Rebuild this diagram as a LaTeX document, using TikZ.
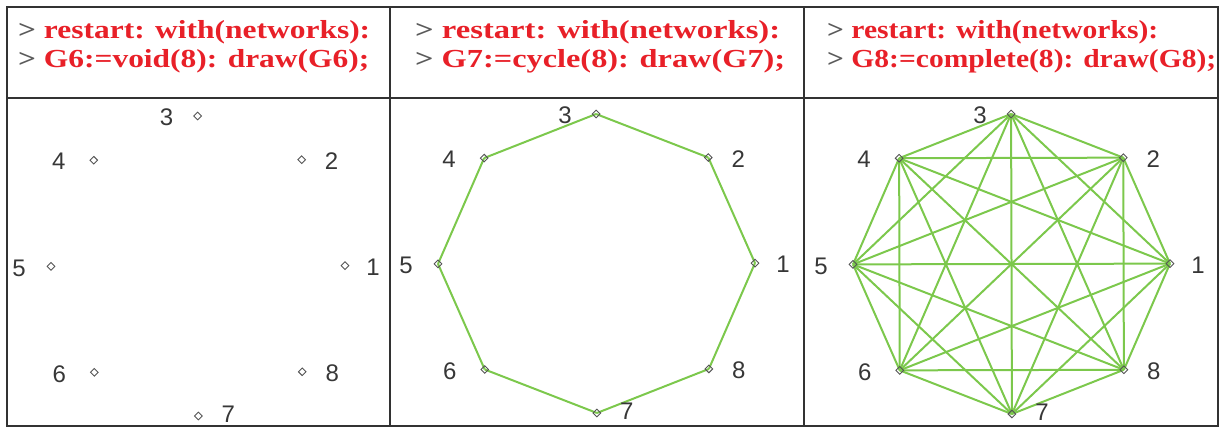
\documentclass[tikz,border=0pt]{standalone}
\usepackage{fontspec}
\setmainfont{Liberation Serif}
\newfontfamily\labfont{Liberation Sans}
\usetikzlibrary{shapes.geometric}
\definecolor{cmdred}{RGB}{232,32,40}
\definecolor{promptgray}{RGB}{90,90,90}
\definecolor{edgegreen}{RGB}{124,200,76}
\definecolor{framegray}{RGB}{50,50,50}
\definecolor{labgray}{RGB}{55,55,55}
\tikzset{
  frame/.style={draw=framegray,line width=1.6pt},
  vtx/.style={diamond,draw=labgray!85,line width=0.9pt,inner sep=0pt,minimum width=8pt,minimum height=8pt},
  vlab/.style={font=\labfont\fontsize{24}{24}\selectfont,text=labgray,inner sep=0pt},
  cmd/.style={anchor=base west,inner sep=0pt,font=\bfseries\fontsize{26}{26}\selectfont,text=cmdred},
  edge/.style={draw=edgegreen,line width=2pt},
}
\newcommand{\prm}{\textcolor{promptgray}{>}\ }
\newcommand{\fitw}[2]{\resizebox{#1pt}{\height}{#2}}
\begin{document}
\begin{tikzpicture}[x=1pt,y=-1pt]
\useasboundingbox (0,0) rectangle (1223,428);
% table
\draw[frame] (7,7) rectangle (1218,426);
\draw[frame] (7,98) -- (1218,98);
\draw[frame] (390,7) -- (390,426);
\draw[frame] (804,7) -- (804,426);
% headers
\node[cmd] (h1a) at (18,38) {\fitw{352}{\prm restart: with(networks):}};
\node[cmd] (h1b) at (18,67) {\fitw{351}{\prm G6:=void(8): draw(G6);}};
\node[cmd] (h2a) at (415,38) {\fitw{365}{\prm restart: with(networks):}};
\node[cmd] (h2b) at (415,67) {\fitw{370}{\prm G7:=cycle(8): draw(G7);}};
\node[cmd] (h3a) at (827,38) {\fitw{331}{\prm restart: with(networks):}};
\node[cmd] (h3b) at (827,67) {\fitw{389}{\prm G8:=complete(8): draw(G8);}};
% vertex coordinates
\foreach \p/\cx/\cy/\rx/\ry in {1/198/266/147/150, 2/596.5/263.5/158.5/149.5, 3/1011.5/264/158.5/150}{
  \foreach \i in {1,...,8}{
    \coordinate (c\p-\i) at ({\cx+\rx*cos((\i-1)*45+0.15)},{\cy-\ry*sin((\i-1)*45+0.15)});
  }
}
% edges: cycle
\foreach \i [evaluate=\i as \j using {int(mod(\i,8)+1)}] in {1,...,8}{
  \draw[edge] (c2-\i) -- (c2-\j);
}
% edges: complete
\foreach \i in {1,...,7}{
  \pgfmathtruncatemacro{\s}{\i+1}
  \foreach \j in {\s,...,8}{
    \draw[edge] (c3-\i) -- (c3-\j);
  }
}
% vertices and labels
\foreach \p in {1,2,3}{
  \foreach \i/\dx/\dy in {1/28/-1.5,2/30/-1.5,3/-31/-1.5,4/-35/-1.5,5/-32/-1.5,6/-35/-1.5,7/30/2,8/30/-1.5}{
    \node[vtx] (v\p-\i) at (c\p-\i) {};
    \node[vlab] (l\p-\i) at ([xshift=\dx pt,yshift=\dy pt]v\p-\i.center) {\i};
  }
}
\end{tikzpicture}
\end{document}
